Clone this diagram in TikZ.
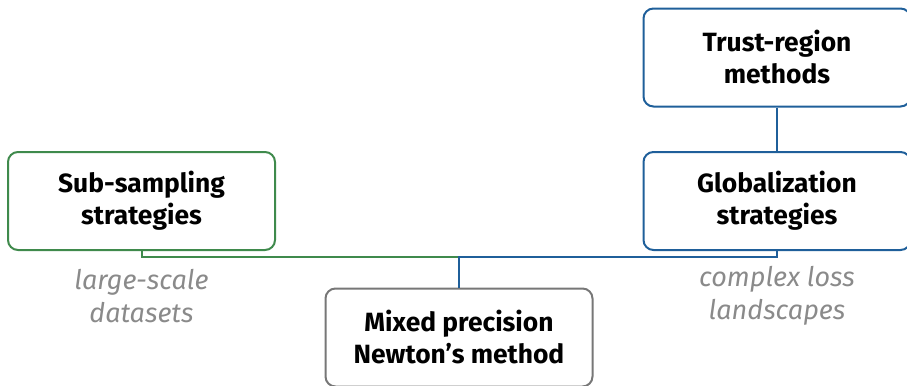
\documentclass[tikz,border=0pt]{standalone}
\usepackage{fontspec}
\setmainfont{Fira Sans}
\usetikzlibrary{positioning}
\definecolor{subgreen}{HTML}{3F8A4C}
\definecolor{globblue}{HTML}{1F5F9A}
\definecolor{notegray}{HTML}{8A8A8A}
\definecolor{mixgray}{HTML}{777777}
\begin{document}
\begin{tikzpicture}[x=0.5pt, y=-0.5pt,
    box node/.style={rectangle, rounded corners=5pt, draw, line width=1pt, align=center,
      minimum width=133.5pt, minimum height=49pt, font=\fontsize{13.2}{16}\selectfont\bfseries},
    note node/.style={align=center, text=notegray, font=\fontsize{13.5}{16.5}\selectfont\itshape}]
            \useasboundingbox (0,0) rectangle (907,386);

              \node[box node, draw=subgreen] (sub) at (141.5,201) {Sub-sampling\\strategies};
              \node[box node, draw=globblue] (glob) at (777,201) {Globalization\\strategies};
              \node[box node, draw=globblue] (trust) at (777,57.5) {Trust-region\\methods};
              \node[box node, draw=mixgray] (mixed) at (459,337.5) {Mixed precision\\Newton's method};
              \node[note node] (subnote) at (141.5,296) {large-scale\\datasets};
              \node[note node] (globnote) at (777,296) {complex loss\\landscapes};
              \coordinate (join) at (459,257);

              \draw[subgreen, line width=1pt] (sub.south) |- (join);
              \draw[globblue, line width=1pt] (glob.south) |- (join) -- (join |- mixed.north);
              \draw[globblue, line width=1pt] (trust) -- (glob);

            \end{tikzpicture}
\end{document}
